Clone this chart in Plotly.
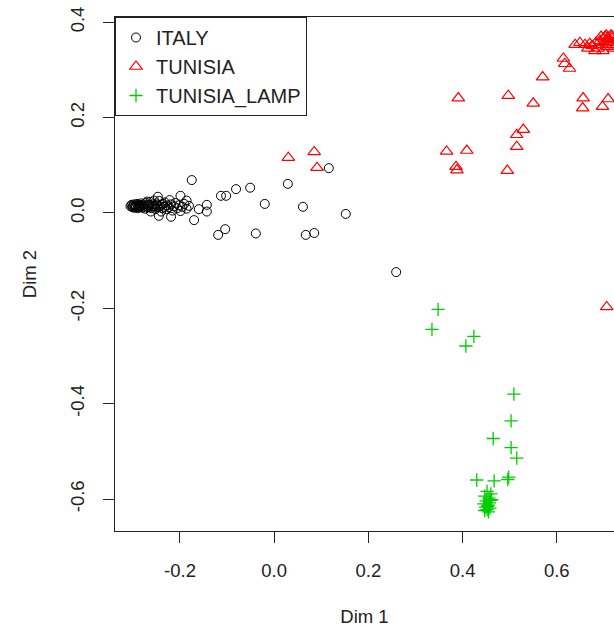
import plotly.graph_objects as go

# ---------------- data ----------------
italy_x = [-0.305, -0.303, -0.301, -0.300, -0.298, -0.297, -0.296, -0.294, -0.293, -0.291,
           -0.290, -0.289, -0.287, -0.286, -0.284, -0.283, -0.281, -0.280, -0.278, -0.277,
           -0.275, -0.274, -0.272, -0.270, -0.268, -0.267, -0.265, -0.263, -0.261, -0.260,
           -0.258, -0.256, -0.254, -0.252, -0.250, -0.248, -0.246, -0.244, -0.242, -0.240,
           -0.238, -0.236, -0.234, -0.232, -0.229, -0.227, -0.224, -0.222, -0.219, -0.216,
           -0.213, -0.210, -0.206, -0.203, -0.199, -0.195, -0.191, -0.186, -0.181, -0.262,
           -0.255, -0.270, -0.240,
           -0.175, -0.081, -0.051, -0.113, -0.102, -0.020, 0.029, 0.061, 0.152, -0.119,
           -0.104, -0.039, 0.067, 0.085, -0.170, -0.143, -0.143, -0.160, -0.199, -0.186,
           -0.219, -0.245, -0.247, 0.116, 0.259]
italy_y = [0.014, 0.017, 0.012, 0.015, 0.018, 0.011, 0.014, 0.016, 0.013, 0.019,
           0.010, 0.015, 0.017, 0.012, 0.014, 0.020, 0.016, 0.011, 0.013, 0.018,
           0.015, 0.009, 0.021, 0.014, 0.017, 0.012, 0.016, 0.023, 0.010, 0.014,
           0.018, 0.013, 0.015, 0.008, 0.020, 0.016, 0.012, 0.025, 0.014, 0.017,
           0.010, 0.019, 0.013, 0.022, 0.008, 0.016, 0.012, 0.027, 0.018, 0.005,
           0.014, 0.021, 0.010, 0.016, 0.004, 0.013, 0.019, 0.009, 0.015, 0.003,
           0.026, 0.024, 0.003,
           0.069, 0.050, 0.053, 0.036, 0.036, 0.019, 0.061, 0.013, -0.002, -0.046,
           -0.034, -0.043, -0.046, -0.042, -0.015, 0.017, 0.003, 0.008, 0.036, 0.026,
           -0.008, -0.006, 0.034, 0.094, -0.124]

tunisia_x = [0.030, 0.085, 0.091, 0.391, 0.497, 0.550, 0.570, 0.614, 0.617, 0.627,
             0.656, 0.655, 0.697, 0.709, 0.529, 0.515, 0.515, 0.366, 0.409, 0.386,
             0.388, 0.495, 0.706,
             0.639, 0.649, 0.660, 0.666, 0.675, 0.683, 0.688, 0.692, 0.696, 0.700,
             0.703, 0.705, 0.707, 0.709, 0.711, 0.713, 0.715, 0.717, 0.719, 0.721,
             0.698, 0.681, 0.670, 0.694, 0.705, 0.717, 0.730, 0.734]
tunisia_y = [0.116, 0.128, 0.095, 0.241, 0.246, 0.230, 0.285, 0.324, 0.313, 0.303,
             0.241, 0.220, 0.223, 0.239, 0.175, 0.164, 0.139, 0.129, 0.131, 0.097,
             0.090, 0.089, -0.197,
             0.353, 0.357, 0.353, 0.345, 0.351, 0.357, 0.345, 0.361, 0.353, 0.366,
             0.370, 0.359, 0.349, 0.368, 0.363, 0.353, 0.373, 0.366, 0.357, 0.345,
             0.340, 0.340, 0.355, 0.370, 0.373, 0.371, 0.366, 0.372]

lamp_x = [0.348, 0.335, 0.424, 0.407, 0.509, 0.503, 0.465, 0.503, 0.515, 0.430,
          0.467, 0.498, 0.496,
          0.452, 0.460, 0.447, 0.456, 0.462, 0.450, 0.457, 0.445, 0.454, 0.449,
          0.458, 0.452, 0.447, 0.455, 0.453, 0.459]
lamp_y = [-0.202, -0.244, -0.259, -0.279, -0.380, -0.436, -0.473, -0.492, -0.514, -0.560,
          -0.562, -0.554, -0.559,
          -0.584, -0.589, -0.594, -0.598, -0.601, -0.604, -0.608, -0.610, -0.613, -0.617,
          -0.619, -0.622, -0.624, -0.627, -0.616, -0.603]

x_ticks = [-0.2, 0.0, 0.2, 0.4, 0.6]
x_tick_text = ["-0.2", "0.0", "0.2", "0.4", "0.6"]
y_ticks = [-0.6, -0.4, -0.2, 0.0, 0.2, 0.4]
y_tick_text = ["-0.6", "-0.4", "-0.2", "0.0", "0.2", "0.4"]

# ---------------- figure ----------------
FONT = "Liberation Sans, Arial, sans-serif"
FS = 18.5
INK = "#222222"

fig = go.Figure()
fig.add_trace(go.Scatter(
    x=italy_x, y=italy_y, mode="markers", name="ITALY",
    marker=dict(symbol="circle-open", size=9, color="#000000", line=dict(width=1, color="#000000"))))
fig.add_trace(go.Scatter(
    x=tunisia_x, y=tunisia_y, mode="markers", name="TUNISIA",
    marker=dict(symbol="triangle-up-open", size=11, color="#FF0000", line=dict(width=1.2, color="#FF0000"))))
fig.add_trace(go.Scatter(
    x=lamp_x, y=lamp_y, mode="markers", name="TUNISIA_LAMP",
    marker=dict(symbol="cross-thin-open", size=9.5, color="#00CD00", line=dict(width=1.3, color="#00CD00"))))

fig.update_layout(
    width=614, height=627,
    margin=dict(l=115, r=0, t=17, b=96),
    paper_bgcolor="white", plot_bgcolor="white",
    font=dict(family=FONT, size=FS, color=INK),
    showlegend=True,
    legend=dict(x=0, y=1, xanchor="left", yanchor="top",
                bordercolor=INK, borderwidth=1, bgcolor="white",
                font=dict(family=FONT, size=20, color=INK),
                tracegroupgap=0),
)
fig.update_xaxes(
    range=[-0.338, 0.7215], tickvals=x_ticks, ticktext=x_tick_text,
    showgrid=False, zeroline=False, showline=True, linecolor=INK, linewidth=1, mirror=True,
    ticks="outside", ticklen=11, tickcolor=INK, tickwidth=1, ticklabelstandoff=12,
    tickfont=dict(family=FONT, size=FS, color=INK),
    title=dict(text="Dim 1", standoff=30, font=dict(family=FONT, size=FS, color=INK)),
)
fig.update_yaxes(
    range=[-0.667, 0.411], tickvals=y_ticks, ticktext=y_tick_text, tickangle=-90,
    showgrid=False, zeroline=False, showline=True, linecolor=INK, linewidth=1, mirror=False,
    ticks="outside", ticklen=11, tickcolor=INK, tickwidth=1, ticklabelstandoff=12,
    tickfont=dict(family=FONT, size=FS, color=INK),
    title=dict(text="Dim 2", standoff=25, font=dict(family=FONT, size=FS, color=INK)),
)

fig.write_html("out.html")
